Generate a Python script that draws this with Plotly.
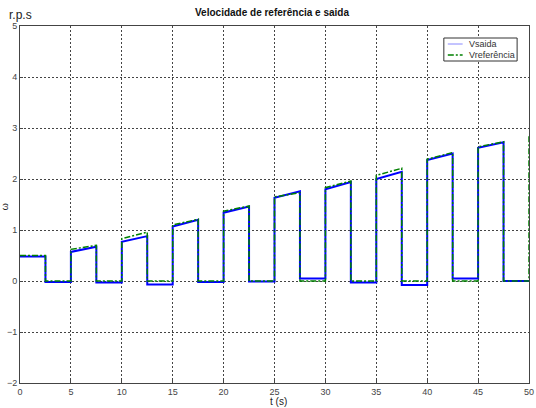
import plotly.graph_objects as go

# ---- data ----
pulse_t0 = [0, 5, 10, 15, 20, 25, 30, 35, 40, 45]
half_period = 2.5
period_end = 50

ref_start = [0.50, 0.62, 0.83, 1.10, 1.37, 1.65, 1.83, 2.07, 2.39, 2.63]
ref_end = [0.50, 0.70, 0.96, 1.21, 1.47, 1.73, 1.96, 2.21, 2.52, 2.73]
ref_next = 2.87  # reference jumps up again at t = 50

out_start = [0.48, 0.57, 0.77, 1.07, 1.34, 1.63, 1.80, 2.00, 2.37, 2.61]
out_end = [0.48, 0.67, 0.88, 1.20, 1.46, 1.76, 1.94, 2.14, 2.50, 2.72]
out_low = [-0.02, -0.03, -0.07, -0.02, -0.01, 0.05, -0.03, -0.08, 0.05, 0.0]

x_ticks = [0, 5, 10, 15, 20, 25, 30, 35, 40, 45, 50]
y_ticks = [-2, -1, 0, 1, 2, 3, 4, 5]

series_names = ["Vsaida", "Vreferência"]


def build(starts, ends, lows):
    xs, ys = [], []
    for t0, s, e, lo in zip(pulse_t0, starts, ends, lows):
        xs += [t0, t0 + half_period, t0 + half_period, t0 + 2 * half_period]
        ys += [s, e, lo, lo]
    return xs, ys


xo, yo = build(out_start, out_end, out_low)
xr, yr = build(ref_start, ref_end, [0.0] * len(ref_start))
xr += [period_end]
yr += [ref_next]

BLUE = "#0000ff"
GREEN = "#008000"
FONT = "Liberation Sans, Arial, sans-serif"
REF_DASH = "6px,2px,2px,2px"

fig = go.Figure()
fig.add_trace(go.Scatter(x=xo, y=yo, mode="lines", name=series_names[0],
                         line=dict(color=BLUE, width=2)))
fig.add_trace(go.Scatter(x=xr, y=yr, mode="lines", name=series_names[1],
                         line=dict(color=GREEN, width=1.5, dash=REF_DASH)))

axis_common = dict(
    showgrid=True, gridcolor="#444444", griddash="2px,2px", gridwidth=1,
    showline=True, linecolor="#444444", linewidth=1, mirror=True,
    ticks="inside", ticklen=3, tickcolor="#444444",
    tickfont=dict(family=FONT, size=9, color="#444444"),
    zeroline=False, ticklabeloverflow="allow",
)

fig.update_xaxes(range=[0, 50], tickvals=x_ticks, **axis_common)
fig.update_yaxes(range=[-2, 5], tickvals=y_ticks, **axis_common)

# plot-area pixel geometry
pl, pr, pt, pb = 20, 534, 26, 383
W = pr - pl
H = pb - pt


def px(pxx, pyy):
    return (pxx - pl) / W, (pb - pyy) / H


annotations = []
for text, (ax, ay), size, color in [
    ("<b>Velocidade de referência e saida</b>", (274, 13), 10, "#111111"),
    ("r.p.s", (21, 15), 12, "#222222"),
    ("t (s)", (281, 401), 10, "#222222"),
]:
    x, y = px(ax, ay)
    annotations.append(dict(text=text, x=x, y=y, xref="paper", yref="paper",
                            showarrow=False, xanchor="center", yanchor="middle",
                            font=dict(family=FONT, size=size, color=color)))
x, y = px(5, 207)
annotations.append(dict(text="ω", x=x, y=y, xref="paper", yref="paper",
                        showarrow=False, textangle=-90, xanchor="center",
                        yanchor="middle", font=dict(family=FONT, size=9, color="#222222")))

# manual MATLAB-style legend box
shapes = []
x0, y0 = px(448, 61)
x1, y1 = px(522, 38)
shapes.append(dict(type="rect", xref="paper", yref="paper", x0=x0, y0=y0, x1=x1, y1=y1,
                   line=dict(color="#333333", width=1), fillcolor="white", layer="above"))
legend_rows = [(44, "#8888ff", "solid", 1), (55, GREEN, REF_DASH, 1.5)]
for (ry, col, dash, w), name in zip(legend_rows, series_names):
    lx0, ly = px(452, ry)
    lx1, _ = px(467, ry)
    shapes.append(dict(type="line", xref="paper", yref="paper", x0=lx0, x1=lx1, y0=ly, y1=ly,
                       line=dict(color=col, width=w, dash=dash), layer="above"))
    tx, ty = px(471, ry)
    annotations.append(dict(text=name, x=tx, y=ty, xref="paper", yref="paper",
                            showarrow=False, xanchor="left", yanchor="middle",
                            font=dict(family=FONT, size=9, color="#333333")))

fig.update_layout(
    width=536, height=408,
    margin=dict(l=20, r=2, t=26, b=25),
    paper_bgcolor="white", plot_bgcolor="white",
    font=dict(family=FONT, size=9, color="#222222"),
    showlegend=False,
    annotations=annotations,
    shapes=shapes,
)

fig.write_html("out.html", config={"displayModeBar": False},
               post_script="document.body.style.margin='0px';document.body.style.overflow='hidden';")
